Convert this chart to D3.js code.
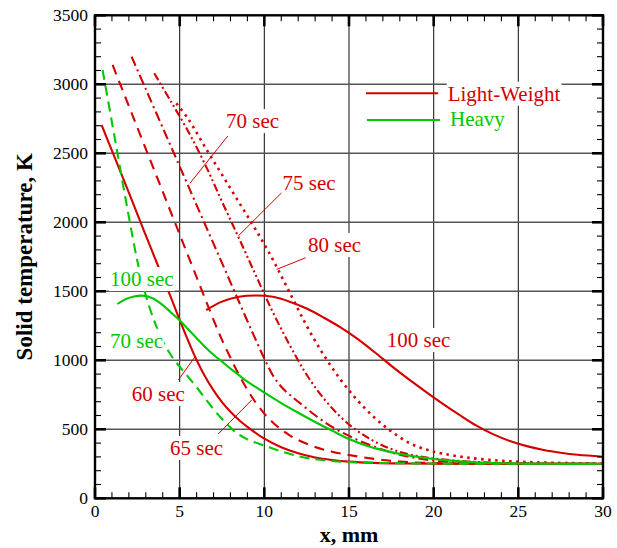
<!DOCTYPE html>
<html>
<head>
<meta charset="utf-8">
<script src="https://cdn.jsdelivr.net/npm/d3@7"></script>
<style>
  html, body { margin: 0; padding: 0; background: #fff; }
  svg { display: block; }
</style>
</head>
<body>
<svg id="chart" width="617" height="548" font-family="'Liberation Serif', 'Times New Roman', Times, serif"></svg>
<script>
// ---------------- DATA ----------------
const xTicks = [0, 5, 10, 15, 20, 25, 30];
const yTicks = [0, 500, 1000, 1500, 2000, 2500, 3000, 3500];
const seriesNames = ["Light-Weight", "Heavy"];

// Light-Weight (red)
const lw60 = [[0.39,2705],[1,2520],[2,2215],[3,1905],[4,1600],[4.5,1450],[5,1293],[5.5,1142],[6,1002],[6.5,882],[7,782],[7.5,697],[8,627],[8.5,568],[9,518],[10,432],[11,370],[12,326],[13,296],[14,278],[15,266],[16.5,257],[18,253],[20,251],[25,250],[30,250]];
const lw65 = [[1.04,3140],[2,2842],[3,2532],[4,2222],[5,1912],[6,1602],[7,1293],[7.5,1148],[8,1018],[8.5,895],[9,787],[9.5,692],[10,614],[10.5,550],[11,498],[11.5,456],[12,422],[13,372],[14,338],[15,314],[16,294],[17,278],[18,266],[20,255],[22,251],[25,250],[30,250]];
const lw70 = [[2.16,3200],[3,2965],[4,2685],[5,2405],[6,2125],[7,1845],[8,1565],[9,1285],[9.5,1147],[10,1012],[10.5,892],[11,808],[11.5,750],[12,700],[13,602],[14,517],[15,452],[16,397],[17,352],[18,316],[19,291],[20,274],[22,257],[25,251],[30,250]];
const lw75 = [[3.5,3080],[4.5,2872],[5.5,2660],[6.5,2420],[7.5,2150],[8.5,1885],[9.5,1615],[10.5,1350],[11.5,1110],[12.5,895],[13.5,725],[14.5,590],[15.5,488],[16.5,412],[17.5,357],[18.5,320],[19.5,297],[20.5,282],[22,267],[24,256],[27,251],[30,250]];
const lw80 = [[4.8,2862],[5.5,2750],[6.5,2545],[7.5,2345],[8.5,2145],[9.5,1945],[10.5,1730],[11.5,1490],[12.5,1250],[13.5,1040],[14.5,860],[15.5,710],[16.5,585],[17.5,485],[18.5,405],[19.5,355],[20.5,325],[22,295],[24,272],[26,261],[28,255],[30,252]];
const lw100 = [[6.56,1364],[7.5,1425],[8.5,1460],[9.5,1470],[10.5,1460],[11.5,1425],[12.5,1375],[13.5,1310],[14.5,1238],[15.5,1155],[16.5,1060],[17.5,960],[18.5,865],[19.5,775],[20.5,688],[21.5,606],[22.5,528],[23.5,465],[24.5,415],[25.5,378],[26.5,350],[27.5,330],[28.5,315],[30,301]];

// Heavy (green)
const hv70 = [[0.45,3103],[1,2725],[1.5,2380],[2,2040],[2.5,1720],[3,1470],[3.5,1285],[4,1140],[4.5,1035],[5,954],[5.5,880],[6,805],[6.5,725],[7,645],[7.5,575],[8,512],[8.5,462],[9,427],[10,382],[11,340],[12,305],[13,283],[14,270],[15,262],[17,256],[20,252],[25,250],[30,250]];
const hv100 = [[1.32,1408],[1.8,1443],[2.3,1462],[2.85,1468],[3.4,1450],[4,1400],[4.5,1345],[5,1290],[5.5,1225],[6,1160],[6.5,1097],[7,1040],[7.5,990],[8,940],[8.5,892],[9,845],[9.5,805],[10,765],[11,690],[12,620],[13,553],[14,490],[15,430],[16,383],[17,349],[18,322],[19,301],[20,285],[21,273],[22,264],[23,258],[25,252],[27,250],[30,250]];

// ---------------- LAYOUT ----------------
const W = 617, H = 548;
const m = { left: 95, right: 14, top: 15.3, bottom: 49.7 };
const RED = "#d40000", GREEN = "#00c800";
const svg = d3.select("#chart");
const x = d3.scaleLinear().domain([0, 30]).range([m.left, W - m.right]);
const y = d3.scaleLinear().domain([0, 3500]).range([H - m.bottom, m.top]);
const x0 = x(0), x1 = x(30), y0 = y(0), y1 = y(3500);

svg.append("defs").append("clipPath").attr("id", "clip")
  .append("rect").attr("x", x0).attr("y", y1).attr("width", x1 - x0).attr("height", y0 - y1);

// grid
const grid = svg.append("g");
grid.selectAll(".vg").data(xTicks.slice(1, -1)).join("line")
  .attr("x1", d => x(d)).attr("x2", d => x(d)).attr("y1", y0).attr("y2", y1)
  .attr("stroke", "#222").attr("stroke-width", 1.1);
grid.selectAll(".hg").data(yTicks.slice(1, -1)).join("line")
  .attr("x1", x0).attr("x2", x1).attr("y1", d => y(d)).attr("y2", d => y(d))
  .attr("stroke", "#555").attr("stroke-width", 1.4);

// curves
const line = d3.line().x(d => x(d[0])).y(d => y(d[1])).curve(d3.curveCatmullRom.alpha(0.5));
const curves = [
  { data: lw60, color: RED, dash: null },
  { data: lw65, color: RED, dash: "10,7" },
  { data: lw70, color: RED, dash: "10,4,2,4" },
  { data: lw75, color: RED, dash: "8,3,2,3,2,3" },
  { data: lw80, color: RED, dash: "2.5,4.5" },
  { data: lw100, color: RED, dash: null },
  { data: hv70, color: GREEN, dash: "10,6" },
  { data: hv100, color: GREEN, dash: null }
];
const cg = svg.append("g").attr("clip-path", "url(#clip)");
curves.forEach(c => {
  cg.append("path").attr("d", line(c.data)).attr("fill", "none")
    .attr("stroke", c.color).attr("stroke-width", c.dash && c.dash.startsWith("2.5") ? 2.6 : 2.1)
    .attr("stroke-dasharray", c.dash);
});

// annotations (data coordinates)
const labels = [
  { t: "70 sec", c: RED, at: [7.74, 2683], lead: [[7.84, 2625], [5.61, 2283]] },
  { t: "75 sec", c: RED, at: [11.08, 2234], lead: [[11.02, 2214], [8.46, 1901]] },
  { t: "80 sec", c: RED, at: [12.58, 1785], lead: [[12.44, 1743], [10.73, 1659]] },
  { t: "100 sec", c: RED, at: [17.23, 1096] },
  { t: "100 sec", c: GREEN, at: [0.89, 1538] },
  { t: "70 sec", c: GREEN, at: [0.89, 1091] },
  { t: "60 sec", c: RED, at: [2.17, 705], lead: [[4.92, 857], [5.91, 1026]] },
  { t: "65 sec", c: RED, at: [4.43, 314], lead: [[7.28, 466], [9.25, 712]] }
];
const ag = svg.append("g");
labels.forEach(l => {
  if (l.lead) {
    ag.append("line").attr("x1", x(l.lead[0][0])).attr("y1", y(l.lead[0][1]))
      .attr("x2", x(l.lead[1][0])).attr("y2", y(l.lead[1][1]))
      .attr("stroke", l.c).attr("stroke-width", 1);
  }
});
function boxedText(g, tx, ty, str, color, size) {
  const bg = g.append("rect").attr("fill", "#fff");
  const t = g.append("text").attr("x", tx).attr("y", ty).attr("fill", color)
    .attr("font-size", size).text(str);
  const b = t.node().getBBox();
  bg.attr("x", b.x - 1).attr("y", b.y).attr("width", b.width + 2).attr("height", b.height);
  return t;
}
labels.forEach(l => boxedText(ag, x(l.at[0]), y(l.at[1]), l.t, l.c, 21));

// legend
const lg = svg.append("g");
[[seriesNames[0], RED, 93.3, 100.7], [seriesNames[1], GREEN, 120, 126]].forEach(([name, col, ly, ty], i) => {
  lg.append("line").attr("x1", 366 + i).attr("x2", 438 + i * 2).attr("y1", ly).attr("y2", ly)
    .attr("stroke", col).attr("stroke-width", 2.1);
  boxedText(lg, 447.7 + i * 2.3, ty, name, col, 21);
});

// frame & ticks
const fg = svg.append("g").attr("stroke", "#000");
fg.append("rect").attr("x", x0).attr("y", y1).attr("width", x1 - x0).attr("height", y0 - y1)
  .attr("fill", "none").attr("stroke-width", 2.4);
const xMinor = d3.range(0, 31, 1).filter(v => v % 5 !== 0);
const yMinor = d3.range(0, 3501, 100).filter(v => v % 500 !== 0);
const MAJ = 11, MIN = 6;
xTicks.forEach(v => {
  fg.append("line").attr("x1", x(v)).attr("x2", x(v)).attr("y1", y0).attr("y2", y0 - MAJ).attr("stroke-width", 2.6);
  fg.append("line").attr("x1", x(v)).attr("x2", x(v)).attr("y1", y1).attr("y2", y1 + MAJ).attr("stroke-width", 2.6);
});
xMinor.forEach(v => {
  fg.append("line").attr("x1", x(v)).attr("x2", x(v)).attr("y1", y0).attr("y2", y0 - MIN).attr("stroke-width", 1.1);
  fg.append("line").attr("x1", x(v)).attr("x2", x(v)).attr("y1", y1).attr("y2", y1 + MIN).attr("stroke-width", 1.1);
});
yTicks.forEach(v => {
  fg.append("line").attr("y1", y(v)).attr("y2", y(v)).attr("x1", x0).attr("x2", x0 + MAJ).attr("stroke-width", 2.6);
  fg.append("line").attr("y1", y(v)).attr("y2", y(v)).attr("x1", x1).attr("x2", x1 - MAJ).attr("stroke-width", 2.6);
});
yMinor.forEach(v => {
  fg.append("line").attr("y1", y(v)).attr("y2", y(v)).attr("x1", x0).attr("x2", x0 + MIN).attr("stroke-width", 1.1);
  fg.append("line").attr("y1", y(v)).attr("y2", y(v)).attr("x1", x1).attr("x2", x1 - MIN).attr("stroke-width", 1.1);
});

// tick labels
svg.append("g").selectAll("text").data(xTicks).join("text")
  .attr("x", d => x(d)).attr("y", 517).attr("text-anchor", "middle")
  .attr("font-size", 17.5).attr("fill", "#000").text(d => d);
svg.append("g").selectAll("text").data(yTicks).join("text")
  .attr("x", 88).attr("y", d => y(d)).attr("dy", "0.35em").attr("text-anchor", "end")
  .attr("font-size", 17.5).attr("fill", "#000").text(d => d);

// axis titles
svg.append("text").attr("x", (x0 + x1) / 2).attr("y", 542).attr("text-anchor", "middle")
  .attr("font-size", 22).attr("font-weight", "bold").text("x, mm");
svg.append("text").attr("transform", `translate(32,${(y0 + y1) / 2}) rotate(-90)`)
  .attr("text-anchor", "middle").attr("font-size", 23).attr("font-weight", "bold")
  .text("Solid temperature, K");
</script>
</body>
</html>
